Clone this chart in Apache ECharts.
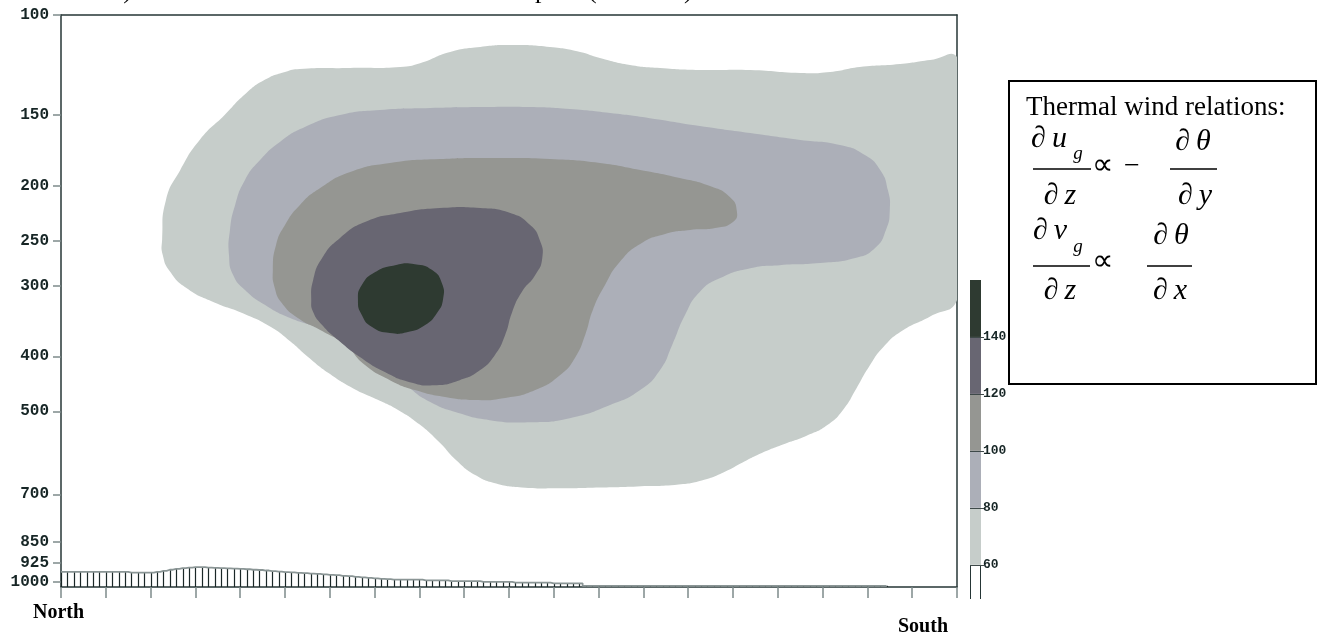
<!DOCTYPE html>
<html><head><meta charset="utf-8">
<script src="https://cdn.jsdelivr.net/npm/echarts@6/dist/echarts.min.js"></script>
<style>html,body{margin:0;padding:0;background:#fff}#c{width:1324px;height:636px}</style>
</head><body><div id="c"></div>
<script>
// ---- data ----
const pressureTicks = [100, 150, 200, 250, 300, 400, 500, 700, 850, 925, 1000];
const colorLevels = [60, 80, 100, 120, 140];
const fillColors = ['#c6cdca', '#acafb8', '#959692', '#686672', '#2e3a31'];
const colorbarBounds = [48, 60, 80, 100, 120, 140, 160];
const colorbarColors = ['#ffffff', '#c6cdca', '#acafb8', '#959692', '#686672', '#2e3a31'];

// contour outlines: [grid position (0..140), pressure hPa]
const poly60 = [[15.8,249],[16.4,212],[18.6,188],[21.7,166],[25.6,150],[28.75,138],[31.9,130],[35.0,126],[37.3,124.5],[45.2,124],[53.0,123.5],[56.1,121.6],[60.8,116.2],[65.5,113.9],[70.2,113],[76.4,113.9],[81.1,116.2],[84.2,119.1],[88.9,122.5],[93.6,124],[99.8,125],[107.7,125],[115.5,126.5],[120.2,126],[124.8,123.5],[131.1,122],[135.8,120],[140,118.6],[140,140],[140,200],[140,260],[140,318],[135.8,340],[131.5,360],[128.5,385],[126.2,418],[124.3,455],[122.3,495],[119.8,528],[116.5,552],[112.8,572],[109.5,592],[106.5,615],[103.8,638],[100.5,660],[96.5,673],[90.0,678],[84.2,681],[78.0,683],[72.0,681],[68.0,670],[64.8,648],[61.8,610],[59.0,565],[56.0,527],[52.8,498],[49.5,477],[45.6,455],[41.8,428],[38.6,401],[35.9,377],[32.8,355],[28.5,336],[23.6,320],[19.6,303],[17.0,283],[15.9,265]];
const poly80 = [[26.25,265],[26.4,239.4],[27.2,216.4],[28.75,195.4],[31.1,180.2],[34.2,167.4],[38.1,157.6],[43.6,150.1],[49.8,147.1],[57.7,145.9],[65.5,145.3],[73.3,145.3],[79.5,146.5],[85.8,148.9],[92.0,152.0],[99.8,156.9],[107.7,161.5],[115.5,166.1],[121.7,169.5],[125.6,176.5],[128.0,187.6],[129.2,203.6],[129.5,220.8],[128.9,239.4],[127.2,257.6],[124.1,268.3],[118.6,273.8],[112.3,276.1],[107.7,279.5],[103.0,291.0],[99.8,308.0],[97.5,338.2],[95.5,381.9],[93.6,422.8],[90.5,458.6],[85.8,487.4],[79.5,513.9],[73.3,522.4],[67.0,518.1],[61.6,501.4],[57.7,481.5],[54.5,454.9],[51.4,419.4],[48.3,389.7],[44.4,371.3],[40.5,356.5],[35.8,342.3],[31.9,324.7],[28.75,305.5],[26.9,287.5]];
const poly100 = [[33.1,281.7],[33.6,254.4],[35.0,234.6],[37.3,216.4],[40.5,201.9],[45.2,189.1],[51.4,182.3],[59.2,179.4],[68.6,178.7],[76.4,179.4],[84.2,182.3],[90.5,187.6],[96.7,193.8],[101.4,200.3],[104.5,209.4],[105.6,221.7],[105.0,231.8],[102.2,237.5],[98.3,239.4],[94.4,243.3],[90.5,253.4],[87.3,272.7],[85.0,299.4],[83.1,331.4],[81.9,366.8],[80.3,402.6],[78.0,431.5],[74.1,458.6],[69.4,473.7],[64.7,477.6],[60.0,471.8],[55.3,458.6],[51.4,440.4],[47.5,414.3],[44.4,381.9],[40.5,359.4],[37.0,342.3],[34.5,322.1],[33.4,303.0]];
const poly120 = [[39.1,318.2],[39.4,293.4],[40.8,268.3],[43.6,247.3],[47.5,231.8],[53.0,223.5],[59.2,219.0],[65.5,219.0],[70.2,223.5],[73.3,234.6],[74.8,249.3],[75.2,268.3],[74.1,287.5],[72.0,308.0],[70.5,334.1],[69.4,366.8],[67.8,397.7],[65.5,422.8],[62.3,440.4],[58.4,449.5],[54.5,444.0],[50.6,426.2],[46.7,400.9],[43.3,374.3],[40.8,352.2],[39.4,334.1]];
const poly140 = [[46.4,318.2],[47.0,299.4],[49.1,284.0],[52.2,276.1],[55.3,275.0],[58.0,281.7],[59.5,297.0],[59.7,316.9],[58.75,335.4],[56.9,352.2],[54.2,362.3],[51.4,363.8],[48.6,355.1],[47.0,338.2]];

// terrain surface pressure at each of the 141 grid columns (1020 = none)
const terrainP = [959,959,959,959,959,959,959,959,959,959,959,962,962,962,962,959,955,951,948,945,
943,941,941,943,944,945,946,947,948,949,951,952,954,956,958,960,961,963,964,966,
967,969,971,972,975,976,979,981,983,985,987,988,990,990,990,990,990,993,993,993,
993,996,996,996,996,996,999,999,999,999,999,1002,1002,1002,1002,1002,1002,1005,1005,1005,
1005,1005,1015,1015,1015,1015,1015,1015,1015,1015,1015,1015,1015,1015,1015,1015,1015,1015,1015,1015,
1015,1015,1015,1015,1015,1015,1015,1015,1015,1015,1015,1015,1015,1015,1015,1015,1015,1015,1015,1015,
1015,1015,1015,1015,1015,1015,1015,1015,1015,1015,1020,1020,1020,1020,1020,1020,1020,1020,1020,1020,1020];

const gridMax = 140, tickStep = 7;
const pTop = 100, pBottom = 1020;

// ---- chart ----
const chart = echarts.init(document.getElementById('c'), null, { renderer: 'canvas' });
const axisDark = '#263636', tickGrey = '#7d8a8a', labelDark = '#172626';

function polySeries(points, color) {
  return {
    type: 'custom', xAxisIndex: 0, yAxisIndex: 0, silent: true, clip: true,
    data: [points[0]],
    renderItem: (params, api) => {
      const c0 = api.coord([0, pTop]), c1 = api.coord([gridMax, pBottom]);
      const constraint = [[Math.min(c0[0], c1[0]), Math.min(c0[1], c1[1])], [Math.max(c0[0], c1[0]), Math.max(c0[1], c1[1])]];
      return {
        type: 'polygon',
        shape: { points: points.map(pt => api.coord(pt)), smooth: 0.55, smoothConstraint: constraint },
        style: { fill: color, stroke: null }
      };
    }
  };
}

const contourPolys = [poly60, poly80, poly100, poly120, poly140];
const series = contourPolys.map((pts, k) => polySeries(pts, fillColors[k]));

series.push({
  type: 'custom', xAxisIndex: 0, yAxisIndex: 0, silent: true,
  data: terrainP.map((p, i) => [i, p]),
  renderItem: (params, api) => {
    const i = api.value(0), p = api.value(1);
    if (p >= pBottom) return { type: 'group', children: [] };
    const a = api.coord([i, p]), b = api.coord([i, pBottom]);
    const x = Math.round(a[0]) + 0.5;
    return { type: 'line', shape: { x1: x, y1: a[1], x2: x, y2: b[1] }, style: { stroke: '#1a2727', lineWidth: 1.2 } };
  }
});
series.push({
  type: 'line', xAxisIndex: 0, yAxisIndex: 0, silent: true, step: 'middle', symbol: 'none',
  data: terrainP.slice(0, 130).map((p, i) => [i, p]),
  lineStyle: { color: '#8a9595', width: 1.8 }
});
series.push({
  type: 'custom', xAxisIndex: 2, yAxisIndex: 2, silent: true,
  data: colorbarBounds.slice(0, -1).map((lo, k) => [0, lo, colorbarBounds[k + 1], k]),
  encode: { x: 0, y: [1, 2] },
  renderItem: (params, api) => {
    const lo = api.value(1), hi = api.value(2), k = api.value(3);
    const tl = api.coord([0, hi]), br = api.coord([1, lo]);
    const children = [{ type: 'rect', shape: { x: tl[0], y: tl[1], width: br[0] - tl[0], height: br[1] - tl[1] }, style: { fill: colorbarColors[k] } }];
    if (k === 0) {
      children.push({ type: 'line', shape: { x1: tl[0] + 0.5, y1: tl[1], x2: tl[0] + 0.5, y2: br[1] }, style: { stroke: axisDark, lineWidth: 1 } });
      children.push({ type: 'line', shape: { x1: br[0] - 0.5, y1: tl[1], x2: br[0] - 0.5, y2: br[1] }, style: { stroke: axisDark, lineWidth: 1 } });
    } else {
      const y = Math.round(br[1]) + 0.5;
      children.push({ type: 'line', shape: { x1: tl[0], y1: y, x2: br[0] + 3, y2: y }, style: { stroke: '#3e4949', lineWidth: 1 } });
    }
    return { type: 'group', children };
  }
});

const serifF = '"Liberation Serif", "Times New Roman", serif';
function txt(text, x, y, size, opts = {}) {
  const align = opts.align || 'center';
  return {
    type: 'text', x, y, silent: true,
    style: {
      text, fill: opts.color || '#000',
      font: (opts.italic ? 'italic ' : '') + (opts.bold ? 'bold ' : '') + size + 'px ' + (opts.family || serifF),
      textAlign: align, textVerticalAlign: 'middle', align: align, verticalAlign: 'middle'
    }
  };
}
function hline(x1, x2, y) {
  return { type: 'line', silent: true, shape: { x1, y1: y, x2, y2: y }, style: { stroke: '#000', lineWidth: 1.5 } };
}
const ts = '\u2009';

const graphic = [
  // title line (cut off at top of image)
  txt('b)', 132, -9, 26, { align: 'right' }),
  txt('Vertical cross section of wind speed', 584, -9, 26, { align: 'right' }),
  txt('(', 588, -9, 26, { align: 'left' }),
  txt('knots', 637, -9, 26),
  txt(')', 684, -9, 26, { align: 'left' }),
  // axis end labels
  txt('North', 33, 613, 20, { bold: true, align: 'left' }),
  txt('South', 898, 627, 20, { bold: true, align: 'left' }),
  // formula box
  { type: 'rect', silent: true, shape: { x: 1009, y: 81, width: 307, height: 303 }, style: { fill: 'rgba(0,0,0,0)', stroke: '#000', lineWidth: 2 } },
  txt('Thermal wind relations:', 1026, 108, 27, { align: 'left' }),
  txt('\u2202' + ts + 'u', 1049, 139, 30, { italic: true }),
  txt('g', 1078, 154, 19, { italic: true }),
  hline(1033, 1091, 169),
  txt('\u2202' + ts + 'z', 1060, 196, 30, { italic: true }),
  txt('\u221D', 1102, 166, 30),
  txt('\u2212', 1132, 167, 28),
  txt('\u2202' + ts + '\u03B8', 1193, 142, 30, { italic: true }),
  hline(1170, 1217, 169),
  txt('\u2202' + ts + 'y', 1195, 196, 30, { italic: true }),
  txt('\u2202' + ts + 'v', 1050, 231, 30, { italic: true }),
  txt('g', 1078, 247, 19, { italic: true }),
  hline(1033, 1090, 266),
  txt('\u2202' + ts + 'z', 1060, 291, 30, { italic: true }),
  txt('\u221D', 1102, 262, 30),
  txt('\u2202' + ts + '\u03B8', 1171, 236, 30, { italic: true }),
  hline(1147, 1192, 266),
  txt('\u2202' + ts + 'x', 1170, 291, 30, { italic: true })
];

const monoF = '"Liberation Mono", "DejaVu Sans Mono", monospace';
const option = {
  animation: false,
  backgroundColor: '#ffffff',
  grid: [
    { left: 61, top: 15, width: 896, height: 572, containLabel: false },
    { left: 970, top: 280, width: 11, height: 319, containLabel: false }
  ],
  xAxis: [
    { gridIndex: 0, type: 'value', min: 0, max: gridMax, interval: tickStep, position: 'bottom',
      axisLine: { show: true, onZero: false, lineStyle: { color: axisDark, width: 1.5 } },
      axisTick: { show: true, length: 11, lineStyle: { color: tickGrey, width: 1.5 } },
      axisLabel: { show: false }, splitLine: { show: false } },
    { gridIndex: 0, type: 'value', min: 0, max: gridMax, position: 'top',
      axisLine: { show: true, onZero: false, lineStyle: { color: axisDark, width: 1.5 } },
      axisTick: { show: false }, axisLabel: { show: false }, splitLine: { show: false } },
    { gridIndex: 1, type: 'value', min: 0, max: 1, show: false }
  ],
  yAxis: [
    { gridIndex: 0, type: 'log', logBase: 10, min: pTop, max: pBottom, inverse: true, position: 'left',
      axisLine: { show: true, onZero: false, lineStyle: { color: axisDark, width: 1.5 } },
      axisTick: { show: true, customValues: pressureTicks, length: 8, lineStyle: { color: tickGrey, width: 1.5 } },
      axisLabel: { show: true, customValues: pressureTicks, margin: 12, color: labelDark, formatter: v => String(v),
        fontFamily: monoF, fontWeight: 'bold', fontSize: 16 },
      splitLine: { show: false }, minorTick: { show: false } },
    { gridIndex: 0, type: 'log', logBase: 10, min: pTop, max: pBottom, inverse: true, position: 'right',
      axisLine: { show: true, onZero: false, lineStyle: { color: axisDark, width: 1.5 } },
      axisTick: { show: false }, axisLabel: { show: false }, splitLine: { show: false } },
    { gridIndex: 1, type: 'value', min: colorbarBounds[0], max: colorbarBounds[colorbarBounds.length - 1], position: 'right',
      axisLine: { show: false }, axisTick: { show: false },
      axisLabel: { show: true, customValues: colorLevels, margin: 2, color: labelDark, formatter: v => String(v),
        fontFamily: monoF, fontWeight: 'bold', fontSize: 13 },
      splitLine: { show: false } }
  ],
  series,
  graphic
};
chart.setOption(option);
</script>
</body></html>
